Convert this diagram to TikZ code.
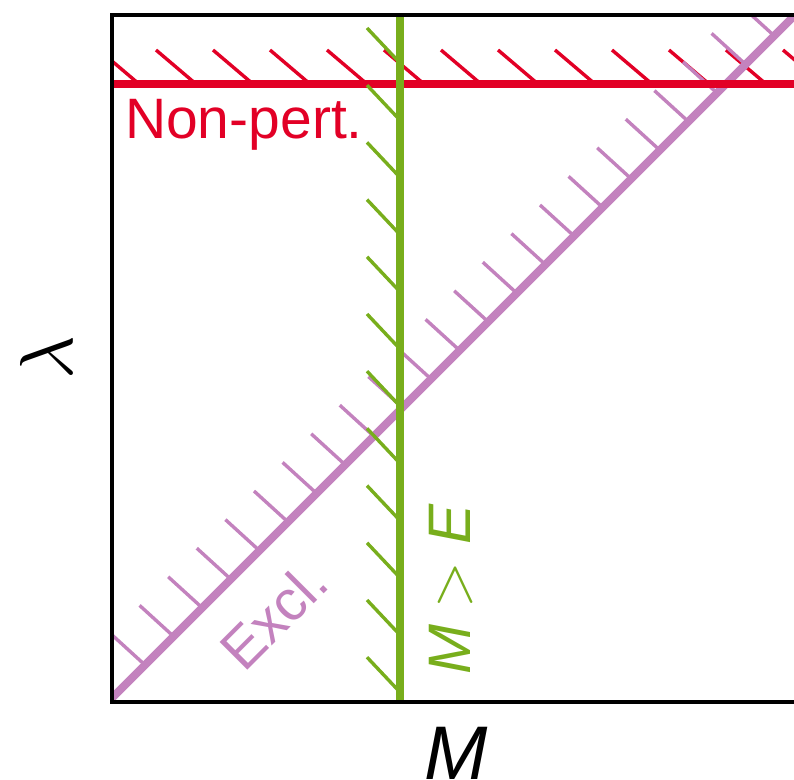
\documentclass[tikz,border=0pt]{standalone}
\usepackage{fontspec}
\setsansfont{Liberation Sans}
\definecolor{nred}{RGB}{226,0,38}
\definecolor{ngreen}{RGB}{120,174,28}
\definecolor{npurple}{RGB}{195,130,190}
\tikzset{
  hatchR/.style={draw=nred, line width=3.4pt},
  hatchG/.style={draw=ngreen, line width=3.4pt},
  hatchP/.style={draw=npurple, line width=3.4pt},
  boundR/.style={draw=nred, line width=8pt},
  boundG/.style={draw=ngreen, line width=8pt},
  boundP/.style={draw=npurple, line width=8pt},
  lbl/.style={font=\sffamily, inner sep=0pt},
}
\begin{document}
\begin{tikzpicture}[x=1pt,y=-1pt]
\useasboundingbox (0,0) rectangle (794,779);
\clip (0,0) rectangle (794,779);
\coordinate (BL) at (112,702);
\coordinate (TR) at (1000,15);
\begin{scope}
  \clip (112,15) rectangle (1000,702);
  % red hatches
  \foreach \k in {0,...,12} {
    \pgfmathsetmacro\b{134+57*\k}
    \draw[hatchR] (\b+5,84) -- (\b-35,50);
  }
  % purple hatches
  \foreach \k in {0,...,23} {
    \pgfmathsetmacro\px{145+28.6*\k}
    \draw[hatchP] (\px,810-\px) -- (\px-34,810-\px-31);
  }
  \coordinate (P0) at (112,698);
  \coordinate (P1) at (1000,-190);
  \draw[boundP] (P0) -- (P1);
  \coordinate (R0) at (112,84);
  \coordinate (R1) at (1000,84);
  \draw[boundR] (R0) -- (R1);
  % green hatches
  \foreach \k in {0,...,11} {
    \pgfmathsetmacro\yb{60+57.2*\k}
    \draw[hatchG] (400,\yb+3) -- (367,\yb-32);
  }
  \coordinate (G0) at (400,15);
  \coordinate (G1) at (400,702);
  \draw[boundG] (G0) -- (G1);
\end{scope}
\draw[line width=4pt] (BL) rectangle (TR);
% labels
\node[lbl, text=nred, anchor=base west, scale=5.7] (np) at (124,138) {Non-pert.};
\node[lbl, text=npurple, anchor=base west, rotate=45, scale=5.7] (ex) at (244,674) {Excl.};
\node[lbl, text=ngreen, anchor=base west, rotate=90, scale=6.0] (me) at (470,676) {\textit{M}${}>{}$\textit{E}};
\node[lbl, anchor=base, scale=7.6] (mx) at (456.5,779) {\textit{M}};
\node[lbl, anchor=center, rotate=90, scale=7.5] (la) at (46,358) {$\lambda$};
\end{tikzpicture}
\end{document}
